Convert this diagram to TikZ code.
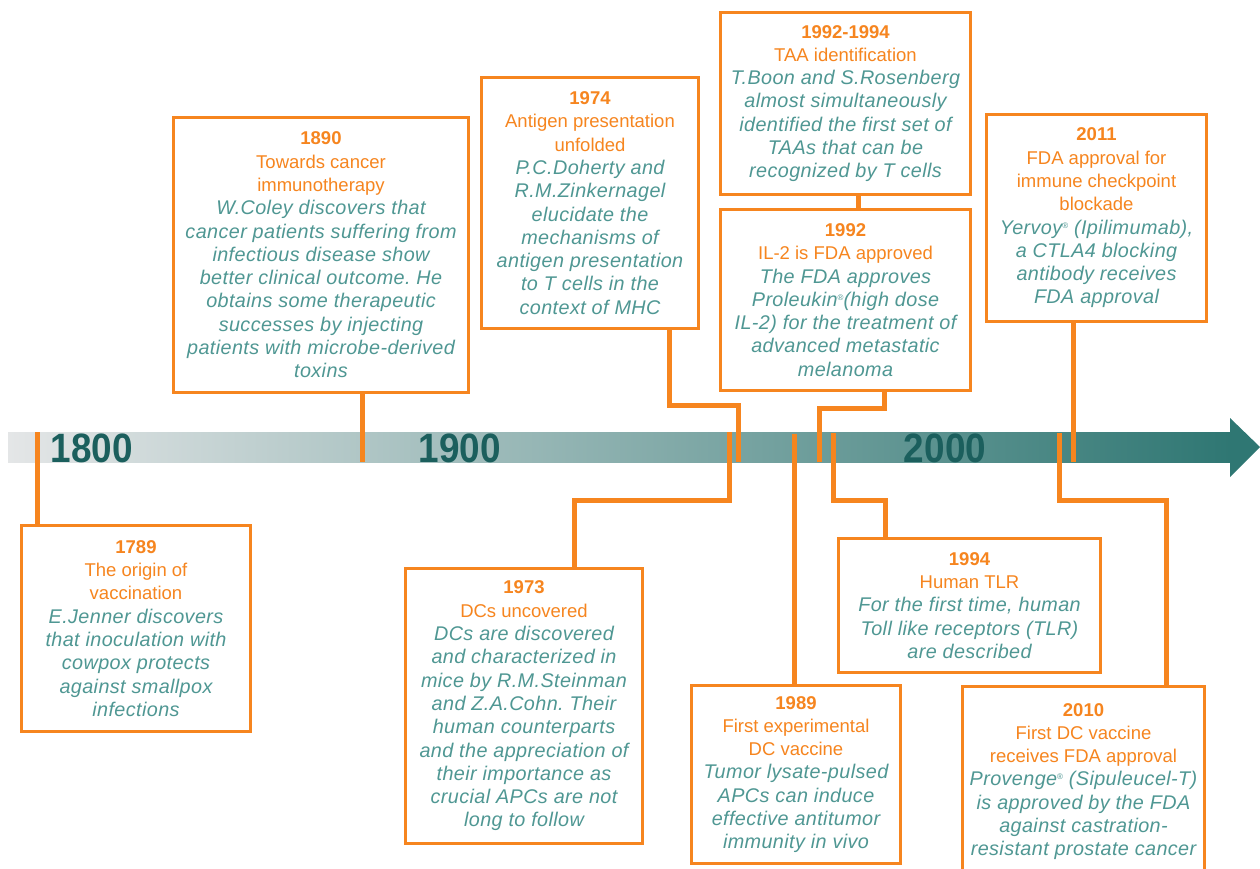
\documentclass[tikz,border=0pt]{standalone}
\usepackage{fontspec}
\setmainfont{Liberation Sans}[ItalicFeatures={Scale=1.07,LetterSpace=2}]
\frenchspacing
\definecolor{orng}{HTML}{F6851F}
\definecolor{tealtxt}{HTML}{4F9793}
\definecolor{yeardark}{HTML}{1B5F5D}
\definecolor{barL}{HTML}{E4E6E7}
\definecolor{barR}{HTML}{2F7773}
\newcommand{\TLyear}[1]{{\color{orng}\bfseries\upshape #1}}
\newcommand{\TLtitle}[1]{{\color{orng}\upshape #1}}
\newcommand{\TLreg}{\raisebox{6pt}{\fontsize{8}{8}\selectfont\upshape ®}}
\tikzset{
  tlbox/.style={draw=orng, line width=3pt, fill=white, align=center, inner sep=1pt,
    anchor=north west, text=tealtxt, font=\fontsize{18.5}{23.3}\selectfont\itshape\frenchspacing},
  conn/.style={draw=orng, line width=5pt},
  yearlbl/.style={text=yeardark, font=\fontsize{41}{41}\selectfont\bfseries, inner sep=0pt}
}
\begin{document}
\begin{tikzpicture}[x=1pt,y=-1pt]
\useasboundingbox (0,0) rectangle (1260,869);
% timeline bar
\fill[left color=barL, right color=barR] (8,432) rectangle (1231,462);
\fill[barR] (1230,418) -- (1260,447) -- (1230,477) -- cycle;
\node[yearlbl] (y1800) at (92,448) {\scalebox{0.9}[1]{1800}};
\node[yearlbl] (y1900) at (460,448) {\scalebox{0.9}[1]{1900}};
\node[yearlbl] (y2000) at (945,448) {\scalebox{0.9}[1]{2000}};

% boxes
\node[tlbox, minimum width=229pt, minimum height=206pt] (b1789) at (20,524) {%
\TLyear{1789}\\ \TLtitle{The origin of}\\ \TLtitle{vaccination}\\
E.Jenner discovers\\ that inoculation with\\ cowpox protects\\ against smallpox\\ infections};

\node[tlbox, minimum width=295pt, minimum height=275pt] (b1890) at (172,116) {%
\TLyear{1890}\\ \TLtitle{Towards cancer}\\ \TLtitle{immunotherapy}\\
W.Coley discovers that\\ cancer patients suffering from\\ infectious disease show\\
better clinical outcome. He\\ obtains some therapeutic\\ successes by injecting\\
patients with microbe-derived\\ toxins};

\node[tlbox, minimum width=217pt, minimum height=251pt] (b1974) at (480,76) {%
\TLyear{1974}\\ \TLtitle{Antigen presentation}\\ \TLtitle{unfolded}\\
P.C.Doherty and\\ R.M.Zinkernagel\\ elucidate the\\ mechanisms of\\
antigen presentation\\ to T cells in the\\ context of MHC};

\node[tlbox, minimum width=250pt, minimum height=182pt] (b9294) at (719,11) {%
\TLyear{1992-1994}\\ \TLtitle{TAA identification}\\
T.Boon and S.Rosenberg\\ almost simultaneously\\ identified the first set of\\
TAAs that can be\\ recognized by T cells};

\node[tlbox, minimum width=250pt, minimum height=181pt] (b1992) at (719,208) {%
\TLyear{1992}\\ \TLtitle{IL-2 is FDA approved}\\
The FDA approves\\ Proleukin\TLreg(high dose\\ IL-2) for the treatment of\\
advanced metastatic\\ melanoma};

\node[tlbox, minimum width=220pt, minimum height=207pt] (b2011) at (985,113) {%
\TLyear{2011}\\ \TLtitle{FDA approval for}\\ \TLtitle{immune checkpoint}\\ \TLtitle{blockade}\\
Yervoy\TLreg\ (Ipilimumab),\\ a CTLA4 blocking\\ antibody receives\\ FDA approval};

\node[tlbox, minimum width=237pt, minimum height=275pt] (b1973) at (404,567) {%
\TLyear{1973}\\ \TLtitle{DCs uncovered}\\
DCs are discovered\\ and characterized in\\ mice by R.M.Steinman\\ and Z.A.Cohn. Their\\
human counterparts\\ and the appreciation of\\ their importance as\\
crucial APCs are not\\ long to follow};

\node[tlbox, minimum width=209pt, minimum height=178pt] (b1989) at (690,684) {%
\TLyear{1989}\\ \TLtitle{First experimental}\\ \TLtitle{DC vaccine}\\
Tumor lysate-pulsed\\ APCs can induce\\ effective antitumor\\ immunity in vivo};

\node[tlbox, minimum width=262pt, minimum height=134pt] (b1994) at (837,537) {%
\TLyear{1994}\\ \TLtitle{Human TLR}\\
For the first time, human\\ Toll like receptors (TLR)\\ are described};

\node[tlbox, minimum width=242pt, minimum height=190pt] (b2010) at (961,685) {%
\TLyear{2010}\\ \TLtitle{First DC vaccine}\\ \TLtitle{receives FDA approval}\\
Provenge\TLreg\ (Sipuleucel-T)\\ is approved by the FDA\\ against castration-\\
resistant prostate cancer};

% connector coordinates
\coordinate (t1789) at (37,432);
\coordinate (t1890) at (362,462);
\coordinate (k1974) at (669,405);
\coordinate (t1974) at (738,462);
\coordinate (t1973) at (729,432);
\coordinate (k1973) at (574,500);
\coordinate (k9294) at (858,200);
\coordinate (k1992) at (884,408);
\coordinate (t1992) at (819,462);
\coordinate (t1989) at (794,434);
\coordinate (t1994) at (833,433);
\coordinate (k1994) at (885,500);
\coordinate (t2011) at (1073,462);
\coordinate (t2010) at (1059,433);
\coordinate (k2010) at (1166,500);

% connectors
\draw[conn] (t1789) -- (b1789.north -| t1789);
\draw[conn] (b1890.south -| t1890) -- (t1890);
\draw[conn] (b1974.south -| k1974) -- (k1974) -| (t1974);
\draw[conn] (t1973) |- (k1973) -- (b1973.north -| k1973);
\draw[conn] (b9294.south -| k9294) -- (b1992.north -| k9294);
\draw[conn] (b1992.south -| k1992) -- (k1992) -| (t1992);
\draw[conn] (t1989) -- (b1989.north -| t1989);
\draw[conn] (t1994) |- (k1994) -- (b1994.north -| k1994);
\draw[conn] (b2011.south -| t2011) -- (t2011);
\draw[conn] (t2010) |- (k2010) -- (b2010.north -| k2010);
\end{tikzpicture}
\end{document}
